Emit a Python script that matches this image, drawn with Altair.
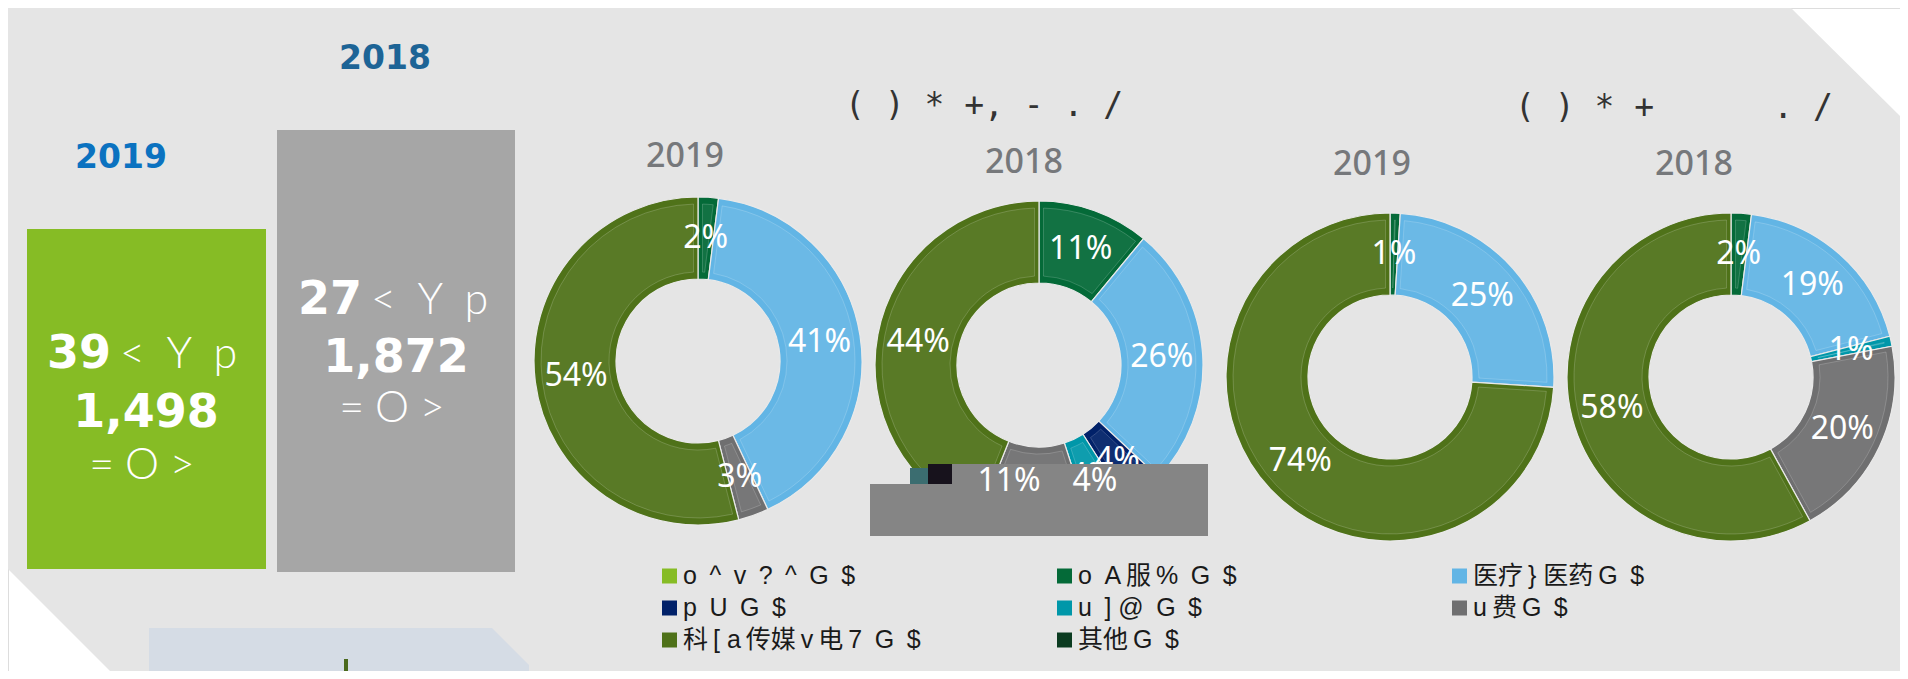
import altair as alt
import pandas as pd

# ---------------- data ----------------
CATEGORIES = ["o^v?^G$", "oA服%G$", "医疗} 医药G$", "pUG$", "u] @G$", "u费G$", "科[ a传媒v电7G$", "其他G$"]
CAT_COLORS = ["#86bc25", "#046a38", "#62b5e5", "#012169", "#0097a9", "#6f6f70", "#4f7219", "#0b3b20"]

GROUP_TITLES = ["( ) * +, - . /", "( ) * +      . /"]
DONUT_YEARS = ["2019", "2018", "2019", "2018"]

DONUT1_CATS = ["oA服%G$", "医疗} 医药G$", "u费G$", "科[ a传媒v电7G$"]
DONUT1_VALS = [2, 41, 3, 54]
DONUT2_CATS = ["oA服%G$", "医疗} 医药G$", "pUG$", "u] @G$", "u费G$", "科[ a传媒v电7G$"]
DONUT2_VALS = [11, 26, 4, 4, 11, 44]
DONUT3_CATS = ["oA服%G$", "医疗} 医药G$", "科[ a传媒v电7G$"]
DONUT3_VALS = [1, 25, 74]
DONUT4_CATS = ["oA服%G$", "医疗} 医药G$", "u] @G$", "u费G$", "科[ a传媒v电7G$"]
DONUT4_VALS = [2, 19, 1, 20, 58]

PANEL_YEARS = ["2019", "2018"]
PANEL_COUNTS = ["39", "27"]
PANEL_COUNT_UNIT = "<Yp"
PANEL_AMOUNTS = ["1,498", "1,872"]
PANEL_AMOUNT_UNIT = "=O>"
OVERLAY_LABELS = ["11%", "4%"]

# ---------------- layout (pixel geometry of the picture) ----------------
W, H = 1892, 663
XS = alt.Scale(domain=[8, 8 + W], zero=False, nice=False)
YS = alt.Scale(domain=[8, 8 + H], zero=False, nice=False, reverse=True)
CSCALE = alt.Scale(domain=CATEGORIES, range=CAT_COLORS)

DONUT_CENTERS = [(698, 361), (1039, 365), (1390, 377), (1731, 377)]
R_OUT, R_IN, R_LAB = 164, 82, 123
DONUT_YEAR_POS = [(685, 157), (1024, 163), (1372, 165), (1694, 165)]
GROUP_TITLE_POS = [(845, 106), (1515, 108)]

BG_POLY = {"x": [7, 118, 1788, 1901], "y": [5, 5, 5, 117], "y2": [568, 679, 679, 679]}
FOOT_POLY = {"x": [149, 492, 529], "y": [628, 628, 665], "y2": [679, 679, 679]}
PANEL_RECTS = [(27, 229, 266, 569, "#86bc25"), (277, 130, 515, 572, "#a6a6a6")]
PANEL_YEAR_POS = [(121, 158, "#0b72c0"), (385, 59, "#1d6496")]
PANEL_COUNT_POS = [(111, 368), (362, 314)]
PANEL_AMOUNT_POS = [(146, 427), (396, 372)]
PANEL_UNIT2_POS = [(142, 479), (392, 422)]
OVERLAY_RECTS = [(952, 464, 1208, 536, "#858585"), (870, 484, 952, 536, "#858585"),
                 (928, 464, 952, 484, "#17121c"), (910, 468, 928, 484, "#3b6d70")]
OVERLAY_LABEL_POS = [(1009, 481), (1095, 481)]
LEG_X0, LEG_DX, LEG_Y0, LEG_DY = 662, 395, 576, 32


def X(f):
    return alt.X(f, type="quantitative", scale=XS, axis=None)


def Y(f):
    return alt.Y(f, type="quantitative", scale=YS, axis=None)


def is_cjk(c):
    return "\u4e00" <= c <= "\u9fff"


def spaced(s, gap="\u2002", cjk_gap="\u2009"):
    out = s[0]
    for a, b in zip(s, s[1:]):
        if a != " " and b != " ":
            if is_cjk(a) and is_cjk(b):
                pass
            elif is_cjk(a) or is_cjk(b):
                out += cjk_gap
            else:
                out += gap
        out += b
    return out


def keep_spaces(s):
    return s.replace(" ", "\u00a0")


def text_layer(rows, **mark):
    df = pd.DataFrame(rows, columns=["t", "x", "y"])
    return alt.Chart(df).mark_text(**mark).encode(x=X("x"), y=Y("y"), text="t:N")


# background shapes
bg = alt.Chart(pd.DataFrame(BG_POLY)).mark_area(
    color="#e5e5e5", interpolate="linear", orient="vertical"
).encode(x=X("x"), y=Y("y"), y2="y2:Q")
foot = alt.Chart(pd.DataFrame(FOOT_POLY)).mark_area(
    color="#d5dce5", interpolate="linear", orient="vertical"
).encode(x=X("x"), y=Y("y"), y2="y2:Q")
foot_rule = alt.Chart(pd.DataFrame({"x": [346], "y": [659], "y2": [679]})).mark_rule(
    color="#4b6a1d", strokeWidth=4
).encode(x=X("x"), y=Y("y"), y2="y2:Q")

panels = alt.Chart(pd.DataFrame(PANEL_RECTS, columns=["x", "y", "x2", "y2", "c"])).mark_rect().encode(
    x=X("x"), y=Y("y"), x2="x2:Q", y2="y2:Q", color=alt.Color("c:N", scale=None)
)

# panel texts
panel_year_layers = [
    text_layer([(PANEL_YEARS[i], p[0], p[1])], font="DejaVu Sans", fontSize=33, fontWeight="bold",
               color=p[2], align="center", baseline="middle")
    for i, p in enumerate(PANEL_YEAR_POS)
]
count_rows = [(PANEL_COUNTS[i], p[0], p[1]) for i, p in enumerate(PANEL_COUNT_POS)]
unit_rows = [(spaced(PANEL_COUNT_UNIT, "\u2002"), p[0] + 9, p[1]) for p in PANEL_COUNT_POS]
amount_rows = [(PANEL_AMOUNTS[i], p[0], p[1]) for i, p in enumerate(PANEL_AMOUNT_POS)]
unit2_rows = [(spaced(PANEL_AMOUNT_UNIT, "\u2005"), p[0], p[1]) for p in PANEL_UNIT2_POS]

counts = text_layer(count_rows, font="DejaVu Sans", fontSize=46, fontWeight="bold", color="white",
                    align="right", baseline="alphabetic")
units = text_layer(unit_rows, font="Lato", fontSize=43, fontWeight=300, color="white",
                   align="left", baseline="alphabetic")
amounts = text_layer(amount_rows, font="DejaVu Sans", fontSize=46, fontWeight="bold", color="white",
                     align="center", baseline="alphabetic")
units2 = text_layer(unit2_rows, font="Lato", fontSize=43, fontWeight=300, color="white",
                    align="center", baseline="alphabetic")

# donuts
rows = []
for d, (cats, vals) in enumerate([(DONUT1_CATS, DONUT1_VALS), (DONUT2_CATS, DONUT2_VALS),
                                  (DONUT3_CATS, DONUT3_VALS), (DONUT4_CATS, DONUT4_VALS)]):
    for k, (c, v) in enumerate(zip(cats, vals)):
        rows.append({"donut": d, "order": k, "cat": c, "value": v,
                     "cx": DONUT_CENTERS[d][0], "cy": DONUT_CENTERS[d][1]})
donut_df = pd.DataFrame(rows)

donut_base = alt.Chart(donut_df).transform_window(
    cum="sum(value)", groupby=["donut"], sort=[alt.SortField("order")], frame=[None, 0]
).transform_calculate(
    t0="(datum.cum - datum.value) / 100 * 2 * PI",
    t1="datum.cum / 100 * 2 * PI",
    tm="(datum.cum - datum.value / 2) / 100 * 2 * PI",
    lx=f"datum.cx + {R_LAB} * sin(datum.tm)",
    ly=f"datum.cy - {R_LAB} * cos(datum.tm)",
    lab="datum.value + '%'",
)
arc_enc = dict(
    x=X("cx"), y=Y("cy"),
    theta=alt.Theta("t0:Q", scale=None, stack=None), theta2="t1:Q",
)
arcs = donut_base.mark_arc(outerRadius=R_OUT, innerRadius=R_IN, stroke="#e9e9e9", strokeWidth=1.2).encode(
    color=alt.Color("cat:N", scale=CSCALE, legend=None), **arc_enc
)
bevel = donut_base.mark_arc(outerRadius=R_OUT - 7, innerRadius=R_IN + 7, padAngle=0.05,
                            fill="white", fillOpacity=0.06, stroke="white", strokeOpacity=0.18,
                            strokeWidth=1).encode(**arc_enc)
arc_labels = donut_base.mark_text(font="Noto Sans", fontSize=32, color="white",
                                  align="center", baseline="middle").encode(
    x=X("lx"), y=Y("ly"), text="lab:N"
)

overlay = alt.Chart(pd.DataFrame(OVERLAY_RECTS, columns=["x", "y", "x2", "y2", "c"])).mark_rect().encode(
    x=X("x"), y=Y("y"), x2="x2:Q", y2="y2:Q", color=alt.Color("c:N", scale=None)
)
overlay_text = text_layer([(OVERLAY_LABELS[i], p[0], p[1]) for i, p in enumerate(OVERLAY_LABEL_POS)],
                          font="Noto Sans", fontSize=32, color="white", align="center", baseline="middle")

donut_years = text_layer([(DONUT_YEARS[i], p[0], p[1]) for i, p in enumerate(DONUT_YEAR_POS)],
                         font="Noto Sans", fontSize=34, fontWeight=500, color="#76787b",
                         align="center", baseline="middle")
group_titles = text_layer([(keep_spaces(GROUP_TITLES[i]), p[0], p[1]) for i, p in enumerate(GROUP_TITLE_POS)],
                          font="DejaVu Sans Mono", fontSize=33, color="#333333",
                          align="left", baseline="middle")

# legend (3 columns, row-major)
leg_df = pd.DataFrame({"cat": CATEGORIES, "idx": list(range(len(CATEGORIES))),
                       "disp": [spaced(c) for c in CATEGORIES]})
leg_base = alt.Chart(leg_df).transform_calculate(
    col="datum.idx % 3", row="floor(datum.idx / 3)"
).transform_calculate(
    sx=f"{LEG_X0 + 7.5} + datum.col * {LEG_DX}",
    tx=f"{LEG_X0 + 21} + datum.col * {LEG_DX}",
    sy=f"{LEG_Y0} + datum.row * {LEG_DY}",
)
leg_sq = leg_base.mark_square(size=225, opacity=1).encode(
    x=X("sx"), y=Y("sy"), color=alt.Color("cat:N", scale=CSCALE, legend=None)
)
leg_txt = leg_base.mark_text(font="Liberation Sans, Noto Sans CJK SC", fontSize=25, color="#1a1a1a",
                             align="left", baseline="middle").encode(
    x=X("tx"), y=Y("sy"), text="disp:N"
)

chart = alt.layer(
    bg, foot, foot_rule, panels, *panel_year_layers, counts, units, amounts, units2,
    arcs, bevel, arc_labels, overlay, overlay_text, donut_years, group_titles, leg_sq, leg_txt
).properties(
    width=W, height=H, padding=0, autosize=alt.AutoSizeParams(type="none")
).configure_view(stroke=None).configure(background="white")

chart.save("out.html", embed_options={"renderer": "svg", "actions": False})
